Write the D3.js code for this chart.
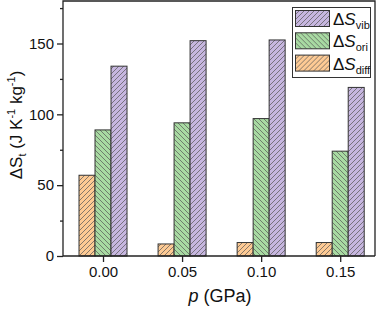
<!DOCTYPE html>
<html>
<head>
<meta charset="utf-8">
<script src="https://cdn.jsdelivr.net/npm/d3@7"></script>
<style>
  body { margin: 0; background: #fff; }
  text { font-family: "Liberation Sans", Arial, sans-serif; fill: #111; }
</style>
</head>
<body>
<svg id="chart" width="380" height="310"></svg>
<script>
// data
var pressures = [0.00, 0.05, 0.10, 0.15];
var pLabels = ["0.00", "0.05", "0.10", "0.15"];
var sDiff = [57, 8.5, 9.5, 9.5];
var sOri = [89, 94, 97, 74];
var sVib = [134, 152, 152.5, 119];
var yTicks = [0, 50, 100, 150];

var series = [
  {key: "diff", values: sDiff, fill: "#fdca94", hatch: "fwd", off: -1},
  {key: "ori", values: sOri, fill: "#a8daa2", hatch: "back", off: 0},
  {key: "vib", values: sVib, fill: "#c6b6df", hatch: "fwd", off: 1}
];

var svg = d3.select("svg#chart");

var mLeft = 63, mRight = 375, mTop = 1, mBottom = 256;
var barW = 16;

var x = d3.scaleLinear()
  .domain([-0.0253, 0.172])
  .range([mLeft, mRight]);

var y = d3.scaleLinear()
  .domain([0, 180])
  .range([mBottom, mTop]);

// hatch patterns
var defs = svg.append("defs");
series.forEach(function(s) {
  var pat = defs.append("pattern")
    .attr("id", "hatch-" + s.key)
    .attr("patternUnits", "userSpaceOnUse")
    .attr("width", 5)
    .attr("height", 5);
  pat.append("rect")
    .attr("width", 5).attr("height", 5)
    .attr("fill", s.fill);
  var d = s.hatch == "fwd"
    ? "M-1,1 l2,-2 M0,5 l5,-5 M4,6 l2,-2"
    : "M-1,4 l2,2 M0,0 l5,5 M4,-1 l2,2";
  pat.append("path")
    .attr("d", d)
    .attr("stroke", "#555")
    .attr("stroke-width", 0.7);
});

// bars
series.forEach(function(s) {
  svg.selectAll("rect.bar-" + s.key)
    .data(s.values)
    .enter().append("rect")
    .attr("class", "bar-" + s.key)
    .attr("x", (d, i) => x(pressures[i]) + s.off * barW - barW / 2)
    .attr("y", d => y(d))
    .attr("width", barW)
    .attr("height", d => y(0) - y(d))
    .attr("fill", "url(#hatch-" + s.key + ")")
    .attr("stroke", "#333")
    .attr("stroke-width", 1);
});

// frame (left, top, right)
svg.append("path")
  .attr("d", "M" + mLeft + "," + mBottom + "V" + mTop + "H" + mRight + "V" + mBottom)
  .attr("fill", "none")
  .attr("stroke", "#222")
  .attr("stroke-width", 1.3);

// y axis
var yAxis = d3.axisLeft(y)
  .tickValues(yTicks)
  .tickSize(6)
  .tickPadding(3)
  .tickFormat(d3.format("d"));
var gy = svg.append("g")
  .attr("transform", "translate(" + mLeft + ",0)")
  .call(yAxis);
gy.select(".domain").remove();

var yMinor = d3.axisLeft(y)
  .tickValues([25, 75, 125, 175])
  .tickSize(3)
  .tickFormat("");
var gym = svg.append("g")
  .attr("transform", "translate(" + mLeft + ",0)")
  .call(yMinor);
gym.select(".domain").remove();

// x axis
var xAxis = d3.axisBottom(x)
  .tickValues(pressures)
  .tickSize(6)
  .tickPadding(4)
  .tickFormat((d, i) => pLabels[i]);
var gx = svg.append("g")
  .attr("transform", "translate(0," + mBottom + ")")
  .call(xAxis);
gx.select(".domain").attr("d", "M" + mLeft + ",0H" + mRight);

svg.selectAll(".tick text").style("font-size", "15px").attr("fill", "#111");
svg.selectAll(".tick line, .domain").attr("stroke", "#222").attr("stroke-width", 1.3);

// axis titles
var xt = svg.append("text")
  .attr("x", 220)
  .attr("y", 302)
  .attr("text-anchor", "middle")
  .style("font-size", "18px");
xt.append("tspan").style("font-style", "italic").text("p");
xt.append("tspan").text(" (GPa)");

var yt = svg.append("text")
  .attr("transform", "translate(22,125) rotate(-90)")
  .attr("text-anchor", "middle")
  .style("font-size", "17px");
yt.append("tspan").text("ΔS");
yt.append("tspan").attr("dy", 4).style("font-size", "11px").text("t");
yt.append("tspan").attr("dy", -4).text(" (J K");
yt.append("tspan").attr("dy", -7).style("font-size", "11px").text("-1");
yt.append("tspan").attr("dy", 7).text(" kg");
yt.append("tspan").attr("dy", -7).style("font-size", "11px").text("-1");
yt.append("tspan").attr("dy", 7).text(")");

// legend
var legendItems = [
  {key: "vib", label: "vib"},
  {key: "ori", label: "ori"},
  {key: "diff", label: "diff"}
];
var lg = svg.append("g");
lg.append("rect")
  .attr("x", 292.5).attr("y", 7.5)
  .attr("width", 78).attr("height", 70)
  .attr("fill", "#fff")
  .attr("stroke", "#333")
  .attr("stroke-width", 1);

var items = lg.selectAll("g.item")
  .data(legendItems)
  .enter().append("g")
  .attr("class", "item")
  .attr("transform", (d, i) => "translate(0," + (i * 22.3) + ")");

items.append("rect")
  .attr("x", 295.5).attr("y", 10.5)
  .attr("width", 34).attr("height", 16)
  .attr("fill", d => "url(#hatch-" + d.key + ")")
  .attr("stroke", "#333");

var lt = items.append("text")
  .attr("x", 333)
  .attr("y", 25)
  .style("font-size", "17px");
lt.append("tspan").text("Δ");
lt.append("tspan").style("font-style", "italic").text("S");
lt.append("tspan").attr("dy", 4).style("font-size", "11px").text(d => d.label);
</script>
</body>
</html>
